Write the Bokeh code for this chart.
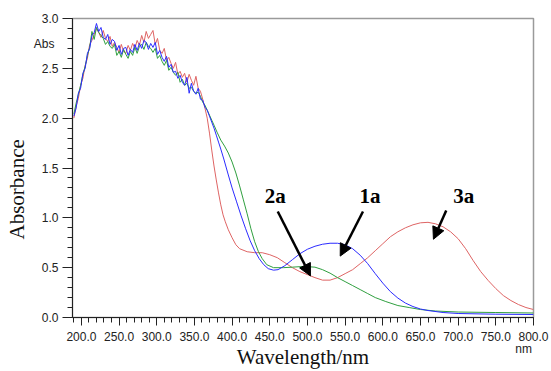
from bokeh.plotting import figure
from bokeh.models import (Range1d, FixedTicker, PrintfTickFormatter, Label, Arrow,
                          NormalHead, LinearAxis, Title, CustomJSTickFormatter)
from bokeh.embed import file_html
from bokeh.resources import INLINE

# ---------------- data ----------------
wl_noisy = [190, 193, 196, 199, 202, 205, 208, 211, 214, 217, 220, 223, 226, 229, 232,
            235, 238, 241, 244, 247, 250, 253, 256, 259, 262, 265, 268, 271, 274, 277,
            280, 283, 286, 289, 292, 295, 298, 301, 304, 307, 310, 313, 316, 319, 322,
            325, 328, 331, 334, 337, 340, 343, 346, 349, 352, 355, 358, 361, 364]

abs_1a_noisy = [2.02, 2.10, 2.25, 2.30, 2.45, 2.50, 2.65, 2.70, 2.83, 2.86, 2.95, 2.87, 2.91, 2.81, 2.79,
                2.84, 2.74, 2.79, 2.77, 2.68, 2.73, 2.64, 2.70, 2.71, 2.63, 2.69, 2.66, 2.74, 2.68, 2.75,
                2.70, 2.78, 2.76, 2.69, 2.75, 2.71, 2.76, 2.64, 2.68, 2.61, 2.57, 2.62, 2.51, 2.54, 2.46,
                2.47, 2.40, 2.43, 2.36, 2.33, 2.41, 2.25, 2.35, 2.27, 2.24, 2.30, 2.19, 2.18, 2.11]
abs_2a_noisy = [2.04, 2.15, 2.24, 2.33, 2.44, 2.52, 2.63, 2.71, 2.87, 2.79, 2.91, 2.86, 2.83, 2.80, 2.74,
                2.77, 2.72, 2.70, 2.74, 2.63, 2.67, 2.61, 2.69, 2.64, 2.60, 2.67, 2.63, 2.71, 2.65, 2.72,
                2.74, 2.69, 2.76, 2.72, 2.70, 2.66, 2.70, 2.60, 2.63, 2.57, 2.53, 2.58, 2.48, 2.51, 2.46,
                2.43, 2.46, 2.36, 2.39, 2.33, 2.35, 2.30, 2.31, 2.27, 2.25, 2.26, 2.22, 2.16, 2.13]
abs_3a_noisy = [2.00, 2.12, 2.20, 2.33, 2.40, 2.53, 2.60, 2.74, 2.78, 2.84, 2.90, 2.86, 2.81, 2.88, 2.80,
                2.77, 2.82, 2.72, 2.76, 2.71, 2.66, 2.74, 2.67, 2.65, 2.73, 2.68, 2.75, 2.70, 2.78, 2.73,
                2.83, 2.76, 2.87, 2.80, 2.84, 2.88, 2.74, 2.80, 2.68, 2.65, 2.70, 2.58, 2.61, 2.55, 2.50,
                2.56, 2.44, 2.47, 2.41, 2.45, 2.36, 2.44, 2.38, 2.33, 2.42, 2.30, 2.27, 2.19, 2.10]

wl_1a_tail = [367, 370, 373, 376, 379, 382, 385, 389, 395, 400, 406, 412, 418, 424, 430, 436, 442,
              448, 455, 461, 470, 480, 490, 500, 510, 520, 530, 540, 550, 560, 570, 580, 590, 600,
              610, 620, 630, 640, 650, 660, 680, 700, 750, 800]
abs_1a_tail = [2.08, 2.02, 1.96, 1.90, 1.83, 1.76, 1.69, 1.59, 1.43, 1.30, 1.16, 1.02, 0.89, 0.77,
               0.67, 0.59, 0.53, 0.49, 0.475, 0.48, 0.52, 0.58, 0.64, 0.685, 0.715, 0.735, 0.745,
               0.745, 0.73, 0.69, 0.625, 0.54, 0.44, 0.345, 0.26, 0.195, 0.145, 0.11, 0.085, 0.07,
               0.05, 0.04, 0.033, 0.03]

wl_2a_tail = [367, 370, 373, 376, 380, 385, 390, 395, 400, 405, 410, 415, 420, 425, 430, 435, 440,
              446, 455, 468, 480, 490, 500, 510, 520, 530, 540, 550, 560, 570, 580, 590, 604, 620,
              635, 650, 670, 700, 750, 800]
abs_2a_tail = [2.08, 2.03, 1.98, 1.93, 1.86, 1.78, 1.72, 1.65, 1.56, 1.45, 1.32, 1.18, 1.04, 0.89,
               0.76, 0.66, 0.59, 0.53, 0.50, 0.50, 0.505, 0.51, 0.51, 0.505, 0.48, 0.445, 0.40, 0.36,
               0.32, 0.28, 0.24, 0.20, 0.16, 0.12, 0.10, 0.08, 0.065, 0.055, 0.05, 0.045]

wl_3a_tail = [367, 370, 373, 376, 379, 382, 385, 388, 391, 395, 400, 405, 410, 420, 430, 440, 450,
              460, 470, 480, 490, 500, 510, 520, 530, 540, 550, 560, 570, 580, 590, 600, 610, 620,
              630, 640, 650, 660, 670, 680, 690, 700, 710, 720, 730, 740, 750, 760, 770, 780, 790, 800]
abs_3a_tail = [2.00, 1.85, 1.68, 1.52, 1.38, 1.25, 1.13, 1.03, 0.96, 0.88, 0.80, 0.73, 0.69, 0.66,
               0.65, 0.65, 0.63, 0.60, 0.55, 0.50, 0.46, 0.43, 0.40, 0.375, 0.375, 0.40, 0.44, 0.48,
               0.54, 0.60, 0.67, 0.74, 0.81, 0.86, 0.90, 0.93, 0.95, 0.955, 0.94, 0.91, 0.86, 0.79,
               0.69, 0.57, 0.46, 0.37, 0.29, 0.22, 0.17, 0.13, 0.10, 0.08]

x_ticks = [200, 250, 300, 350, 400, 450, 500, 550, 600, 650, 700, 750, 800]
y_ticks = [0.0, 0.5, 1.0, 1.5, 2.0, 2.5, 3.0]

series = [
    ("3a", wl_noisy + wl_3a_tail, abs_3a_noisy + abs_3a_tail, "#de6464"),
    ("2a", wl_noisy + wl_2a_tail, abs_2a_noisy + abs_2a_tail, "#2f9f3f"),
    ("1a", wl_noisy + wl_1a_tail, abs_1a_noisy + abs_1a_tail, "#2b2bff"),
]

TXT = "#222222"

# ---------------- figure ----------------
p = figure(width=551, height=371, output_backend="svg", toolbar_location=None,
           x_range=Range1d(188.2, 800), y_range=Range1d(0, 3.0),
           min_border_left=68, min_border_right=18, min_border_top=18, min_border_bottom=51)
p.grid.visible = False
p.outline_line_color = "#9a9a9a"
p.outline_line_width = 1.5
p.background_fill_color = "white"
p.border_fill_color = "white"

for name, xs, ys, col in series:
    p.line(xs, ys, line_color=col, line_width=1)


def style_axis(ax, tick_out, minor_out):
    ax.major_tick_out = tick_out
    ax.major_tick_in = 0
    ax.minor_tick_out = minor_out
    ax.minor_tick_in = 0
    ax.axis_line_color = TXT
    ax.major_tick_line_color = TXT
    ax.minor_tick_line_color = TXT
    ax.major_label_text_font = "Liberation Sans"
    ax.major_label_text_font_size = "12px"
    ax.major_label_text_color = TXT


# x axis
xa = p.xaxis[0]
xa.ticker = FixedTicker(ticks=x_ticks, minor_ticks=list(range(190, 801, 10)))
xa.formatter = PrintfTickFormatter(format="%.1f")
style_axis(xa, 8, 5)
xa.major_label_standoff = 6

# y axis
ya = p.yaxis[0]
ya.ticker = FixedTicker(ticks=y_ticks, minor_ticks=[i / 10 for i in range(0, 31)])
ya.formatter = PrintfTickFormatter(format="%.1f")
style_axis(ya, 10, 5)
ya.major_label_standoff = 4


def unit_axis(ticks, text):
    ax = LinearAxis(ticker=FixedTicker(ticks=ticks, minor_ticks=[]),
                    formatter=CustomJSTickFormatter(code="return '%s';" % text))
    ax.axis_line_color = None
    ax.major_tick_line_color = None
    ax.minor_tick_line_color = None
    ax.major_tick_out = 0
    ax.major_tick_in = 0
    ax.minor_tick_out = 0
    ax.minor_tick_in = 0
    ax.major_label_text_font = "Liberation Sans"
    ax.major_label_text_font_size = "12px"
    ax.major_label_text_color = TXT
    return ax


# unit label "Abs" beside the y tick labels
abs_axis = unit_axis([2.742], "Abs")
abs_axis.major_label_standoff = -16
p.add_layout(abs_axis, "left")

# y title
p.add_layout(Title(text="Absorbance", align="left", offset=78, standoff=4,
                   text_font="Liberation Serif", text_font_size="21px",
                   text_font_style="normal", text_color="#111111"), "left")

# unit label "nm" under 800.0 and the x title
nm_axis = unit_axis([786.9], "nm")
nm_axis.major_label_standoff = -2
nm_axis.axis_label = "Wavelength/nm"
nm_axis.axis_label_standoff = -14
nm_axis.axis_label_text_font = "Liberation Serif"
nm_axis.axis_label_text_font_size = "21px"
nm_axis.axis_label_text_font_style = "normal"
nm_axis.axis_label_text_color = "#111111"
p.add_layout(nm_axis, "below")

# compound annotations with arrows
annots = [("2a", 457.3, 460.6, 1.063, 504.0, 0.417),
          ("1a", 582.9, 573.7, 1.063, 543.5, 0.616),
          ("3a", 707.3, 684.2, 1.073, 667.2, 0.785)]
for t, tx, xs0, ys0, xe, ye in annots:
    p.add_layout(Label(x=tx, y=1.217, text=t, text_align="center", text_baseline="middle",
                       text_font="Liberation Serif", text_font_size="21px",
                       text_font_style="bold", text_color="black"))
    p.add_layout(Arrow(x_start=xs0, y_start=ys0, x_end=xe, y_end=ye, line_width=2.5,
                       line_color="black",
                       end=NormalHead(size=12, fill_color="black", line_color="black")))

open("out.html", "w").write(file_html(p, INLINE))
